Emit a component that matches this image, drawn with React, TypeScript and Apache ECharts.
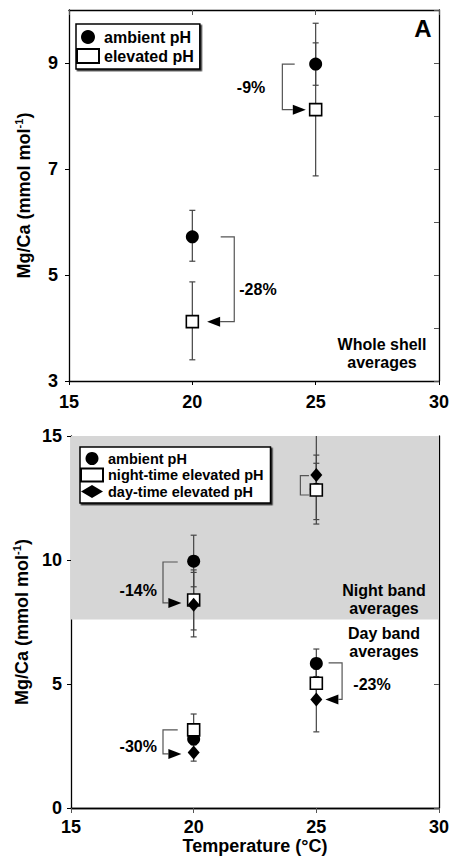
import React, { useEffect, useRef } from 'react';
import * as echarts from 'echarts';

const FONT = '"Liberation Sans", Arial, Helvetica, sans-serif';

// ---------- Panel A (whole shell averages) ----------
const tempsA = [20, 25];
const ambientA = [5.72, 8.98];
const ambientALow = [5.26, 8.58];
const ambientAHigh = [6.22, 9.38];
const elevatedA = [4.12, 8.12];
const elevatedALow = [3.4, 6.87];
const elevatedAHigh = [4.87, 9.75];
const yTicksA = [3, 5, 7, 9];

// ---------- Panel B (night bands: idx 0,1 ; day bands: idx 2,3) ----------
const tempsB = [20, 25, 20, 25];
const ambientB = [9.95, 12.85, 2.78, 5.83];
const ambientBLow = [8.92, 11.45, 2.55, 5.3];
const ambientBHigh = [11.0, 15.5, 3.0, 6.41];
const nightB = [8.39, 12.82, 3.15, 5.03];
const nightBLow = [7.18, 11.63, 2.6, 4.4];
const nightBHigh = [9.6, 13.9, 3.79, 5.65];
const dayB = [8.2, 13.43, 2.24, 4.38];
const dayBLow = [6.9, 12.6, 1.89, 3.07];
const dayBHigh = [9.5, 14.23, 2.6, 5.6];
const bandEdgeB = 7.6;
const xTicks = [15, 20, 25, 30];

// ---------- change annotations ----------
const changeLabelsA = ['-9%', '-28%'];
const changeStartXA = [24.15, 21.15];
const changeStartYA = [8.98, 5.72];
const changeBendXA = [23.65, 21.7];
const changeEndYA = [8.12, 4.12];
const changeTipXA = [24.6, 20.6];
const changeArrowA = [1, 1];
const changeLabelXA = [22.38, 22.66];
const changeLabelYA = [8.53, 4.72];

const changeLabelsB = ['-14%', '-30%', '-23%', ''];
const changeStartXB = [19.35, 19.35, 25.5, 24.7];
const changeStartYB = [9.92, 3.15, 5.85, 13.4];
const changeBendXB = [18.75, 18.75, 26.05, 24.35];
const changeEndYB = [8.27, 2.18, 4.38, 12.62];
const changeTipXB = [19.5, 19.5, 25.37, 24.7];
const changeArrowB = [1, 1, 1, 0];
const changeLabelXB = [17.74, 17.74, 27.27, 0];
const changeLabelYB = [8.79, 2.46, 4.96, 0];

const BAR_COLOR = '#444';

function errorBars(xs: number[], lows: number[], highs: number[], xi: number, yi: number) {
  return {
    type: 'custom',
    name: 'err',
    xAxisIndex: xi,
    yAxisIndex: yi,
    z: 1,
    clip: true,
    silent: true,
    data: xs.map((x, i) => [x, lows[i], highs[i]]),
    encode: { x: 0, y: [1, 2] },
    renderItem: (params: any, api: any) => {
      const x = api.value(0);
      const lo = api.coord([x, api.value(1)]);
      const hi = api.coord([x, api.value(2)]);
      const w = 3;
      const st = { stroke: BAR_COLOR, lineWidth: 1.2 };
      return {
        type: 'group',
        children: [
          { type: 'line', shape: { x1: lo[0], y1: lo[1], x2: hi[0], y2: hi[1] }, style: st },
          { type: 'line', shape: { x1: lo[0] - w, y1: lo[1], x2: lo[0] + w, y2: lo[1] }, style: st },
          { type: 'line', shape: { x1: hi[0] - w, y1: hi[1], x2: hi[0] + w, y2: hi[1] }, style: st },
        ],
      };
    },
  };
}

function brackets(
  labels: string[], sx: number[], sy: number[], bx: number[], ey: number[], tx: number[],
  arrow: number[], lx: number[], ly: number[], xi: number, yi: number
) {
  return {
    type: 'custom',
    name: 'change',
    xAxisIndex: xi,
    yAxisIndex: yi,
    z: 2,
    silent: true,
    data: sx.map((v, i) => [v, sy[i], bx[i], ey[i], tx[i], arrow[i], lx[i], ly[i]]),
    encode: { x: [0, 2, 4], y: [1, 3] },
    renderItem: (params: any, api: any) => {
      const s = api.coord([api.value(0), api.value(1)]);
      const b1 = api.coord([api.value(2), api.value(1)]);
      const b2 = api.coord([api.value(2), api.value(3)]);
      const t = api.coord([api.value(4), api.value(3)]);
      const hasArrow = api.value(5) === 1;
      const dir = Math.sign(t[0] - b2[0]) || 1;
      const L = 13;
      const H = 5;
      const end = hasArrow ? [t[0] - dir * L, t[1]] : t;
      const children: any[] = [
        {
          type: 'polyline',
          shape: { points: [s, b1, b2, end] },
          style: { stroke: '#555', lineWidth: 1.2, fill: null },
        },
      ];
      if (hasArrow) {
        children.push({
          type: 'polygon',
          shape: { points: [[t[0], t[1]], [t[0] - dir * L, t[1] - H], [t[0] - dir * L, t[1] + H]] },
          style: { fill: '#000' },
        });
      }
      const label = labels[params.dataIndex];
      if (label) {
        const p = api.coord([api.value(6), api.value(7)]);
        children.push({
          type: 'text',
          x: p[0],
          y: p[1],
          style: {
            text: label,
            fill: '#000',
            font: `bold 16px ${FONT}`,
            textAlign: 'center',
            textVerticalAlign: 'middle',
          },
        });
      }
      return { type: 'group', children };
    },
  };
}

const circleStyle = { color: '#000', opacity: 1 };
const squareStyle = { color: '#fff', borderColor: '#000', borderWidth: 1.6, opacity: 1 };
const diamondStyle = { color: '#000', opacity: 1 };

const axisLabelStyle = { color: '#000', fontSize: 18, fontWeight: 'bold', fontFamily: FONT };
const axisLineStyle = { show: true, lineStyle: { color: '#000', width: 1.3 } };

const yName = '{a|Mg/Ca (mmol mol}{s|-1}{a|)}';
const yNameStyle = {
  color: '#000',
  fontFamily: FONT,
  fontWeight: 'bold',
  fontSize: 18,
  rich: {
    a: { fontSize: 18, fontWeight: 'bold', fontFamily: FONT, color: '#000', lineHeight: 22 },
    s: { fontSize: 11, fontWeight: 'bold', fontFamily: FONT, color: '#000', lineHeight: 22, verticalAlign: 'top' },
  },
};

export default function App() {
  const ref = useRef<HTMLDivElement>(null);
  useEffect(() => {
    document.body.style.margin = '0';
    const chart = echarts.init(ref.current!, undefined, { renderer: 'svg' });
    const option: any = {
      animation: false,
      backgroundColor: '#fff',
      textStyle: { fontFamily: FONT },
      grid: [
        { left: 69, top: 10, width: 370, height: 371 },
        { left: 71, top: 436, width: 372, height: 372 },
      ],
      xAxis: [
        {
          gridIndex: 0, type: 'value', position: 'bottom', min: 15, max: 30, interval: 5,
          axisLine: axisLineStyle, splitLine: { show: false },
          axisTick: { show: true, inside: false, length: 4, lineStyle: { color: '#000' } },
          axisLabel: { ...axisLabelStyle, margin: 12, customValues: xTicks },
        },
        {
          gridIndex: 0, type: 'value', position: 'top', min: 15, max: 30, interval: 5,
          axisLine: axisLineStyle, splitLine: { show: false },
          axisTick: { show: true, inside: true, length: 5, lineStyle: { color: '#555' } },
          axisLabel: { show: false },
        },
        {
          gridIndex: 1, type: 'value', position: 'bottom', min: 15, max: 30, interval: 5,
          axisLine: axisLineStyle, splitLine: { show: false },
          axisTick: { show: true, inside: false, length: 4, lineStyle: { color: '#000' } },
          axisLabel: { ...axisLabelStyle, margin: 10, customValues: xTicks },
          name: 'Temperature (°C)', nameLocation: 'middle', nameGap: 28,
          nameTextStyle: { color: '#000', fontSize: 18, fontWeight: 'bold', fontFamily: FONT },
        },
        {
          gridIndex: 1, type: 'value', position: 'top', min: 15, max: 30, interval: 5,
          axisLine: axisLineStyle, splitLine: { show: false },
          axisTick: { show: true, inside: true, length: 5, lineStyle: { color: '#555' } },
          axisLabel: { show: false },
        },
      ],
      yAxis: [
        {
          gridIndex: 0, type: 'value', position: 'left', min: 3, max: 10, interval: 1,
          axisLine: axisLineStyle, splitLine: { show: false },
          axisTick: { show: true, inside: false, length: 4, customValues: yTicksA, lineStyle: { color: '#000' } },
          axisLabel: { ...axisLabelStyle, margin: 11, customValues: yTicksA },
          name: yName, nameLocation: 'middle', nameRotate: 90, nameGap: 34, nameTextStyle: yNameStyle,
        },
        {
          gridIndex: 0, type: 'value', position: 'right', min: 3, max: 10, interval: 1,
          axisLine: axisLineStyle, splitLine: { show: false },
          axisTick: { show: true, inside: true, length: 5, lineStyle: { color: '#555' } },
          axisLabel: { show: false },
        },
        {
          gridIndex: 1, type: 'value', position: 'left', min: 0, max: 15, interval: 5,
          axisLine: axisLineStyle, splitLine: { show: false },
          axisTick: { show: true, inside: false, length: 4, lineStyle: { color: '#000' } },
          axisLabel: { ...axisLabelStyle, margin: 9 },
          name: yName, nameLocation: 'middle', nameRotate: 90, nameGap: 38, nameTextStyle: yNameStyle,
        },
        {
          gridIndex: 1, type: 'value', position: 'right', min: 0, max: 15, interval: 5,
          axisLine: axisLineStyle, splitLine: { show: false },
          axisTick: { show: true, inside: true, length: 5, lineStyle: { color: '#555' } },
          axisLabel: { show: false },
        },
      ],
      legend: [
        {
          data: ['ambient pH', 'elevated pH'],
          orient: 'vertical',
          left: 76, top: 24,
          padding: [5, 6, 5, 0],
          itemGap: 3,
          itemWidth: 22, itemHeight: 14,
          backgroundColor: '#fff',
          borderColor: '#000', borderWidth: 1.5, borderRadius: 0,
          shadowColor: 'rgba(0,0,0,0.8)', shadowOffsetX: 1.5, shadowOffsetY: 1.5, shadowBlur: 1,
          selectedMode: false,
          textStyle: { color: '#000', fontSize: 16, fontWeight: 'bold', fontFamily: FONT, lineHeight: 14 },
        },
        {
          data: ['ambient pH', 'night-time elevated pH', 'day-time elevated pH'],
          orient: 'vertical',
          left: 80, top: 447,
          padding: [4, 7, 4, 0],
          itemGap: 1.5,
          itemWidth: 22, itemHeight: 13,
          backgroundColor: '#fff',
          borderColor: '#000', borderWidth: 1.5, borderRadius: 0,
          shadowColor: 'rgba(0,0,0,0.8)', shadowOffsetX: 1.5, shadowOffsetY: 1.5, shadowBlur: 1,
          selectedMode: false,
          textStyle: { color: '#000', fontSize: 14.5, fontWeight: 'bold', fontFamily: FONT, lineHeight: 13 },
        },
      ],
      graphic: [
        { type: 'text', x: 423, y: 28, style: { text: 'A', font: `bold 24px ${FONT}`, fill: '#000', textAlign: 'center', textVerticalAlign: 'middle' } },
        { type: 'text', x: 418, y: 453, style: { text: 'B', font: `bold 24px ${FONT}`, fill: '#000', textAlign: 'center', textVerticalAlign: 'middle' } },
        { type: 'text', x: 382, y: 353, style: { text: 'Whole shell\naverages', font: `bold 16px ${FONT}`, lineHeight: 18, fill: '#000', textAlign: 'center', textVerticalAlign: 'middle' } },
        { type: 'text', x: 384, y: 599, z: 10, style: { text: 'Night band\naverages', font: `bold 16px ${FONT}`, lineHeight: 18, fill: '#000', textAlign: 'center', textVerticalAlign: 'middle' } },
        { type: 'text', x: 384, y: 642, style: { text: 'Day band\naverages', font: `bold 16px ${FONT}`, lineHeight: 18, fill: '#000', textAlign: 'center', textVerticalAlign: 'middle' } },
      ],
      series: [
        // Panel A error bars
        errorBars(tempsA, ambientALow, ambientAHigh, 0, 0),
        errorBars(tempsA, elevatedALow, elevatedAHigh, 0, 0),
        brackets(changeLabelsA, changeStartXA, changeStartYA, changeBendXA, changeEndYA, changeTipXA,
          changeArrowA, changeLabelXA, changeLabelYA, 0, 0),
        {
          type: 'scatter', name: 'ambient pH', xAxisIndex: 0, yAxisIndex: 0, z: 3,
          symbol: 'circle', symbolSize: 13, itemStyle: circleStyle,
          data: tempsA.map((x, i) => [x, ambientA[i]]),
        },
        {
          type: 'scatter', name: 'elevated pH', xAxisIndex: 0, yAxisIndex: 0, z: 4,
          symbol: 'rect', symbolSize: 12, itemStyle: squareStyle,
          data: tempsA.map((x, i) => [x, elevatedA[i]]),
        },
        // Panel B
        errorBars(tempsB, ambientBLow, ambientBHigh, 2, 2),
        errorBars(tempsB, nightBLow, nightBHigh, 2, 2),
        errorBars(tempsB, dayBLow, dayBHigh, 2, 2),
        brackets(changeLabelsB, changeStartXB, changeStartYB, changeBendXB, changeEndYB, changeTipXB,
          changeArrowB, changeLabelXB, changeLabelYB, 2, 2),
        {
          type: 'scatter', name: 'ambient pH', xAxisIndex: 2, yAxisIndex: 2, z: 3,
          symbol: 'circle', symbolSize: 13, itemStyle: circleStyle,
          data: tempsB.map((x, i) => [x, ambientB[i]]),
          markArea: {
            silent: true,
            itemStyle: { color: '#d6d6d6', opacity: 1 },
            data: [[{ yAxis: bandEdgeB }, { yAxis: 15 }]],
          },
        },
        {
          type: 'scatter', name: 'night-time elevated pH', xAxisIndex: 2, yAxisIndex: 2, z: 4,
          symbol: 'rect', symbolSize: 12, itemStyle: squareStyle,
          data: tempsB.map((x, i) => [x, nightB[i]]),
        },
        {
          type: 'scatter', name: 'day-time elevated pH', xAxisIndex: 2, yAxisIndex: 2, z: 5,
          symbol: 'diamond', symbolSize: [12, 14], itemStyle: diamondStyle,
          data: tempsB.map((x, i) => [x, dayB[i]]),
        },
      ],
    };
    chart.setOption(option);
    return () => chart.dispose();
  }, []);
  return <div ref={ref} style={{ position: 'fixed', left: 0, top: 0, width: 452, height: 858 }} />;
}
